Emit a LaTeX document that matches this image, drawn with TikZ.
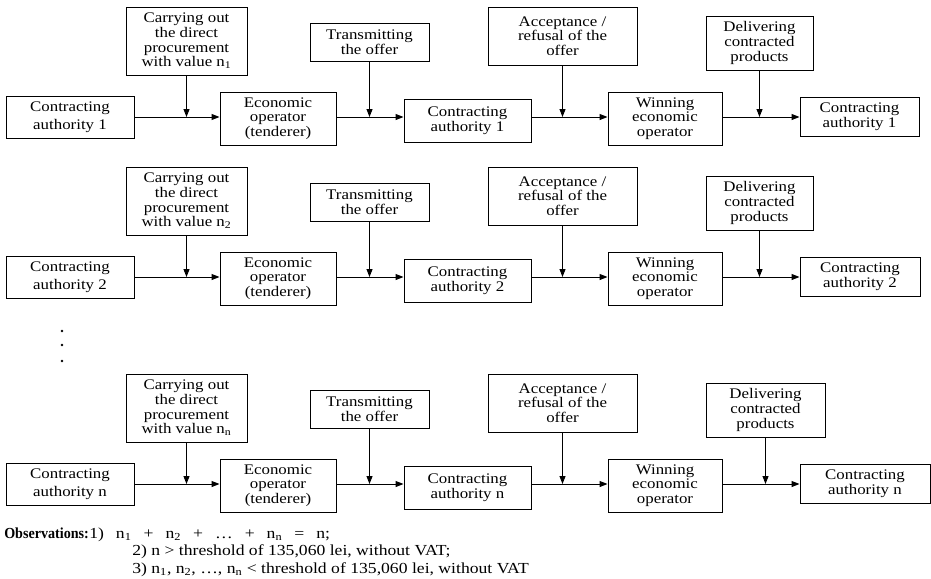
\documentclass[tikz,border=0pt]{standalone}
\usepackage{fontspec}
\usepackage{graphicx}
\setmainfont{Liberation Serif}[FakeStretch=1.15]
\usetikzlibrary{arrows.meta}
\newcommand\boxfont{\fontsize{11}{11}\selectfont}
\newcommand\cafont{\fontsize{11}{13.5}\selectfont}
\newcommand\obsfont{\fontsize{11.5}{13}\selectfont}
\newcommand\hs{\hspace{9pt}}
\newcommand\bx[7][]{\node[box,#1,minimum width={((#5)-(#3))*0.75pt},minimum height={((#6)-(#4))*0.75pt}] (#2) at ({((#3)+(#5))/2},{((#4)+(#6))/2}) {#7};}
\tikzset{
  box/.style={draw,line width=0.75pt,rectangle,inner sep=0pt,align=center,font=\boxfont},
  cabox/.style={font=\cafont},
  arr/.style={-{Triangle[length=6pt,width=4.5pt]},line width=0.75pt},
  obs/.style={anchor=base west,inner sep=0pt,font=\obsfont},
}
\begin{document}
\begin{tikzpicture}[x=0.75pt,y=-0.75pt]
\useasboundingbox (0,0) rectangle (931,578);
\foreach \r/\dy/\lab/\dr/\fr in {1/0/1/813/919, 2/160/2/813/920, n/367/n/825/930}{
  \bx[cabox]{ca\r}{6}{96+\dy}{134}{138+\dy}{Contracting\\authority \lab}
  \bx{proc\r}{126}{7+\dy}{247}{75+\dy}{Carrying out\\the direct\\procurement\\with value n\textsubscript{\lab}}
  \bx{eo\r}{220}{92+\dy}{336}{145+\dy}{Economic\\operator\\(tenderer)}
  \bx{tr\r}{310}{23+\dy}{429}{61+\dy}{Transmitting\\the offer}
  \bx{cb\r}{404}{99+\dy}{531}{142+\dy}{Contracting\\authority \lab}
  \bx{acc\r}{488}{7+\dy}{637}{65+\dy}{Acceptance /\\refusal of the\\offer}
  \bx{win\r}{608}{92+\dy}{722}{145+\dy}{Winning\\economic\\operator}
  \bx{del\r}{706}{16+\dy}{\dr}{70+\dy}{Delivering\\contracted\\products}
  \bx{cf\r}{800}{97+\dy}{\fr}{136+\dy}{Contracting\\authority \lab}
  \draw[arr] (ca\r.east) -- (ca\r.east -| eo\r.west);
  \draw[arr] (eo\r.east |- ca\r.east) -- (ca\r.east -| cb\r.west);
  \draw[arr] (cb\r.east |- ca\r.east) -- (ca\r.east -| win\r.west);
  \draw[arr] (win\r.east |- ca\r.east) -- (ca\r.east -| cf\r.west);
  \draw[arr] (proc\r.south) -- (proc\r.south |- ca\r.east);
  \draw[arr] (tr\r.south) -- (tr\r.south |- ca\r.east);
  \draw[arr] (acc\r.south) -- (acc\r.south |- ca\r.east);
  \draw[arr] (del\r.south) -- (del\r.south |- ca\r.east);
}
\foreach \yy in {331,345,361}{\fill (62,\yy) circle (1pt);}
\node[obs] (obsh) at (4,538) {\scalebox{0.8}[1]{\bfseries Observations:}};
\node[obs] (ob1) at (89,538) {1)\hs n\textsubscript{1}\hs+\hs n\textsubscript{2}\hs+\hs …\hs+\hs n\textsubscript{n}\hs=\hs n;};
\node[obs] (ob2) at (132,555.5) {2) n > threshold of 135,060 lei, without VAT;};
\node[obs] (ob3) at (132,573) {3) n\textsubscript{1}, n\textsubscript{2}, …, n\textsubscript{n} < threshold of 135,060 lei, without VAT};
\end{tikzpicture}
\end{document}
